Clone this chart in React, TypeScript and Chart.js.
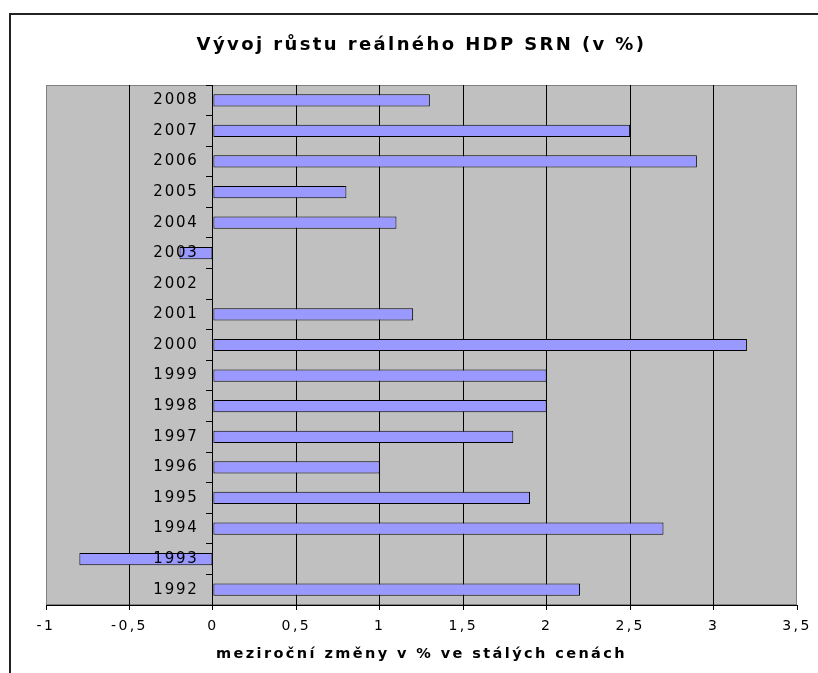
import { useEffect, useRef } from 'react';
import { Chart, registerables } from 'chart.js';

Chart.register(...registerables);

const years = ['1992', '1993', '1994', '1995', '1996', '1997', '1998', '1999', '2000', '2001', '2002', '2003', '2004', '2005', '2006', '2007', '2008'];
const growth = [2.2, -0.8, 2.7, 1.9, 1.0, 1.8, 2.0, 2.0, 3.2, 1.2, 0, -0.2, 1.1, 0.8, 2.9, 2.5, 1.3];
const xMin = -1;
const xMax = 3.5;
const xStep = 0.5;
const labelAxisAt = -0.085;
const chartTitle = 'Vývoj růstu reálného HDP SRN (v %)';
const xTitle = 'meziroční změny v % ve stálých cenách';

const FONT = 'DejaVu Sans';

const plotPlugin = {
  id: 'plotPlugin',
  beforeDraw(chart: any) {
    const { ctx, chartArea: a } = chart;
    ctx.save();
    ctx.fillStyle = '#C0C0C0';
    ctx.fillRect(a.left, a.top, a.width, a.height);
    ctx.strokeStyle = '#808080';
    ctx.lineWidth = 1;
    ctx.strokeRect(a.left + 0.5, a.top + 0.5, a.width - 1, a.height - 1);
    ctx.restore();
    (ctx as any).letterSpacing = '2.4px';
  },
  afterDatasetsDraw(chart: any) {
    (chart.ctx as any).letterSpacing = '1.8px';
  },
  afterDraw(chart: any) {
    (chart.ctx as any).letterSpacing = '0px';
  },
};

export default function App() {
  const ref = useRef<HTMLCanvasElement | null>(null);

  useEffect(() => {
    if (!ref.current) return;
    const chart = new Chart(ref.current, {
      type: 'bar',
      data: {
        labels: years,
        datasets: [
          {
            data: growth,
            yAxisID: 'y',
            backgroundColor: '#9999FF',
            borderColor: '#000000',
            borderWidth: 1,
            borderSkipped: false,
            barPercentage: 0.4,
            categoryPercentage: 1,
          },
        ],
      },
      options: {
        indexAxis: 'y',
        responsive: false,
        animation: false,
        events: [],
        layout: { padding: { left: 46, right: 21, top: 0, bottom: 0 } },
        plugins: {
          legend: { display: false },
          tooltip: { enabled: false },
          title: {
            display: true,
            text: chartTitle,
            color: '#000',
            font: { family: FONT, size: 18, weight: 'bold', lineHeight: 1.2 },
            padding: { top: 35, bottom: 28.4 },
          },
        },
        scales: {
          x: {
            type: 'linear',
            min: xMin,
            max: xMax,
            ticks: {
              stepSize: xStep,
              callback: (v: any) => String(v).replace('.', ','),
              color: '#000',
              font: { family: FONT, size: 14 },
              padding: 8,
              maxRotation: 0,
              autoSkip: false,
              z: 0,
            },
            grid: {
              color: (c: any) =>
                c.tick && (c.tick.value === xMin || c.tick.value === xMax) ? 'rgba(0,0,0,0)' : '#000',
              tickColor: '#000',
              tickLength: 5,
              lineWidth: 1,
            },
            border: { display: true, color: '#000', width: 1 },
            title: {
              display: true,
              text: xTitle,
              color: '#000',
              font: { family: FONT, size: 14.5, weight: 'bold', lineHeight: 1.2 },
              padding: { top: 0, bottom: 10 },
            },
            afterFit: (s: any) => {
              s.height = 68;
            },
          },
          y: {
            type: 'category',
            reverse: true,
            position: { x: 0 } as any,
            ticks: { display: false },
            grid: {
              drawOnChartArea: false,
              drawTicks: true,
              tickLength: 6,
              tickColor: '#000',
              offset: true,
            },
            border: { display: true, color: '#000', width: 1 },
          },
          yLabels: {
            type: 'category',
            axis: 'y',
            reverse: true,
            position: { x: labelAxisAt } as any,
            ticks: {
              color: '#000',
              font: { family: FONT, size: 15 },
              padding: 0,
              z: 1,
              autoSkip: false,
            },
            grid: { display: false, drawOnChartArea: false, drawTicks: false },
            border: { display: false },
          },
        },
      } as any,
      plugins: [plotPlugin],
    });
    return () => chart.destroy();
  }, []);

  return (
    <div
      style={{
        position: 'fixed',
        left: 0,
        top: 0,
        width: 818,
        height: 673,
        overflow: 'hidden',
        background: '#fff',
      }}
    >
      <div
        style={{
          position: 'absolute',
          left: 9,
          top: 13,
          width: 1000,
          height: 1000,
          borderTop: '2px solid #222',
          borderLeft: '2px solid #222',
        }}
      />
      <canvas
        ref={ref}
        width={818}
        height={673}
        style={{ position: 'absolute', left: 0, top: 0, width: 818, height: 673 }}
      />
    </div>
  );
}
